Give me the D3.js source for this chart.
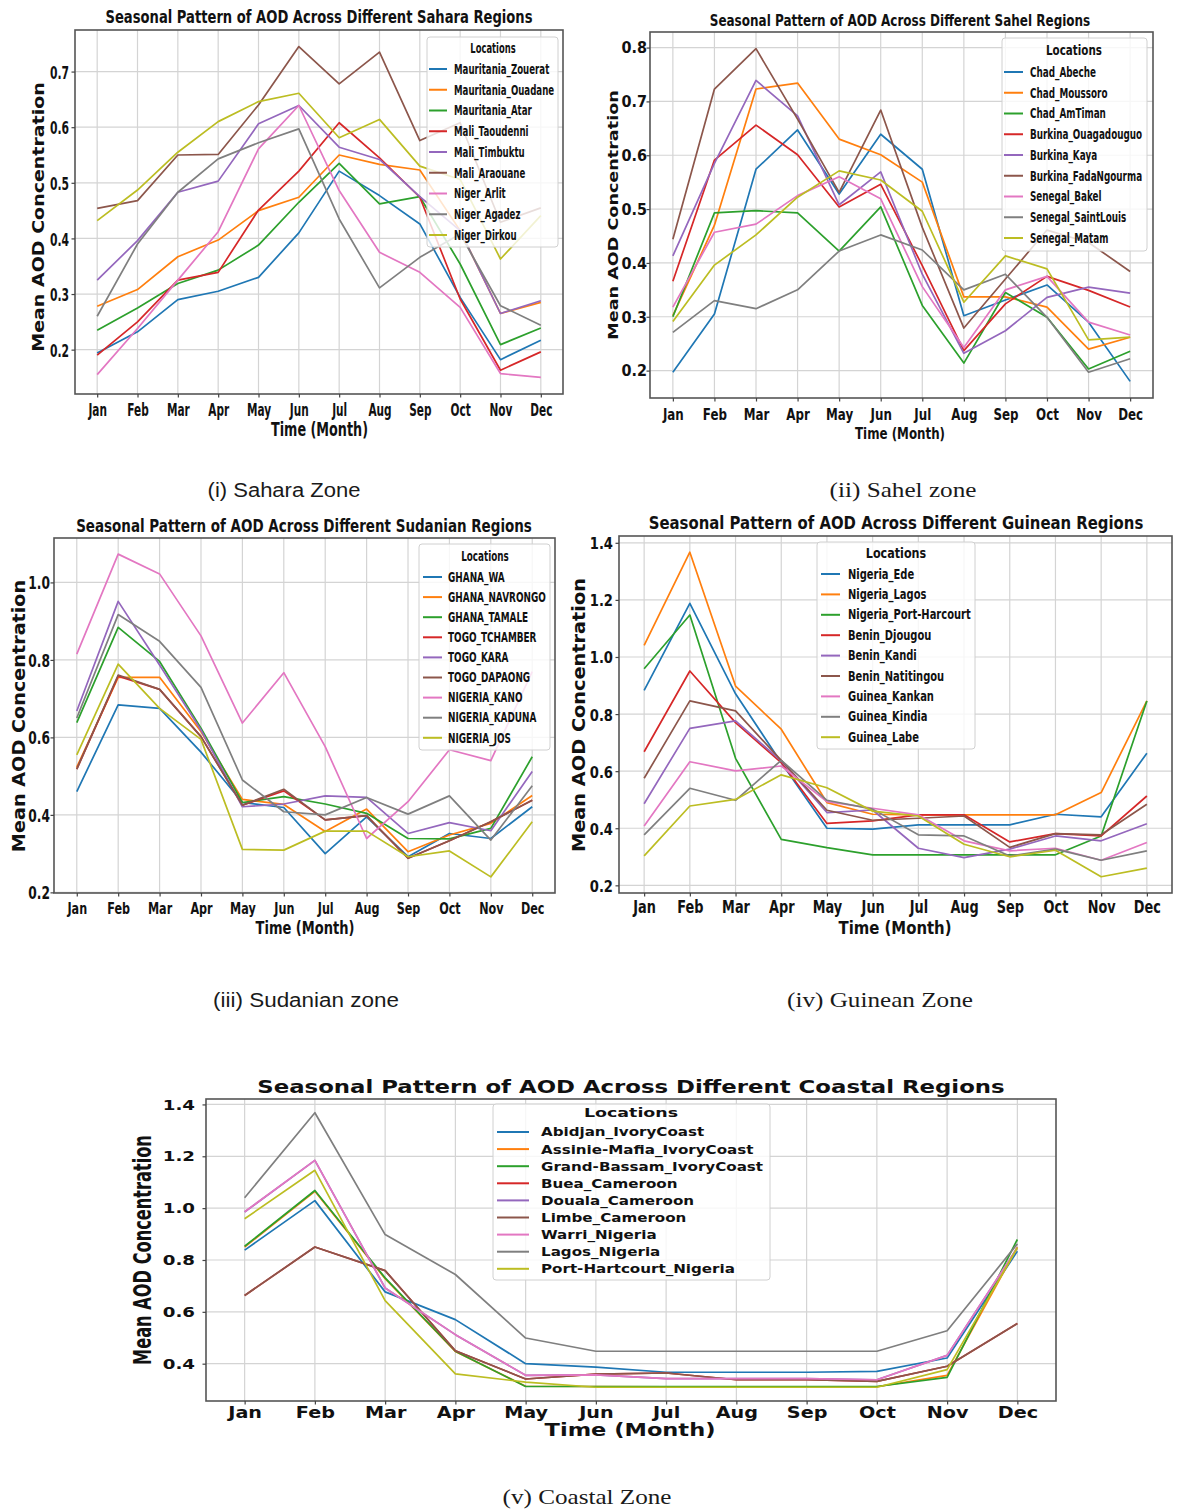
<!DOCTYPE html>
<html>
<head>
<meta charset="utf-8">
<script src="https://cdn.jsdelivr.net/npm/d3@7"></script>
<style>
  body { margin: 0; background: #fff; }
  svg { display: block; }
</style>
</head>
<body>
<svg id="fig" width="1177" height="1511"></svg>
<script>
// ---- data: monthly mean AOD per location, one array per zone ----
const months = ["Jan","Feb","Mar","Apr","May","Jun","Jul","Aug","Sep","Oct","Nov","Dec"];

const saharaSites = ["Mauritania_Zouerat","Mauritania_Ouadane","Mauritania_Atar","Mali_Taoudenni",
  "Mali_Timbuktu","Mali_Araouane","Niger_Arlit","Niger_Agadez","Niger_Dirkou"];
const saharaAOD = [
  [0.194,0.232,0.290,0.305,0.330,0.410,0.521,0.477,0.426,0.294,0.182,0.217],
  [0.278,0.308,0.367,0.397,0.450,0.474,0.550,0.533,0.523,0.414,0.265,0.285],
  [0.235,0.275,0.319,0.343,0.388,0.465,0.535,0.462,0.475,0.354,0.209,0.239],
  [0.190,0.250,0.325,0.339,0.451,0.521,0.608,0.545,0.474,0.291,0.163,0.196],
  [0.325,0.396,0.483,0.503,0.606,0.639,0.564,0.542,0.475,0.414,0.265,0.288],
  [0.454,0.468,0.550,0.551,0.640,0.745,0.678,0.735,0.576,0.608,0.429,0.455],
  [0.155,0.238,0.325,0.412,0.561,0.639,0.486,0.375,0.339,0.276,0.157,0.150],
  [0.260,0.390,0.483,0.543,0.572,0.597,0.435,0.311,0.366,0.408,0.279,0.244],
  [0.432,0.487,0.555,0.610,0.646,0.661,0.581,0.614,0.530,0.506,0.363,0.441]
];
const saharaTicks = [0.2,0.3,0.4,0.5,0.6,0.7];

const sahelSites = ["Chad_Abeche","Chad_Moussoro","Chad_AmTiman","Burkina_Ouagadouguo","Burkina_Kaya",
  "Burkina_FadaNgourma","Senegal_Bakel","Senegal_SaintLouis","Senegal_Matam"];
const sahelAOD = [
  [0.197,0.305,0.574,0.647,0.528,0.639,0.574,0.302,0.331,0.359,0.290,0.180],
  [0.302,0.470,0.723,0.734,0.630,0.601,0.550,0.337,0.337,0.318,0.240,0.262],
  [0.300,0.493,0.497,0.493,0.422,0.504,0.321,0.214,0.345,0.299,0.203,0.236],
  [0.366,0.591,0.656,0.601,0.504,0.546,0.395,0.237,0.324,0.375,0.349,0.318],
  [0.413,0.585,0.739,0.673,0.508,0.569,0.379,0.232,0.274,0.336,0.355,0.344],
  [0.444,0.723,0.798,0.667,0.531,0.684,0.466,0.279,0.370,0.461,0.438,0.384],
  [0.318,0.457,0.472,0.525,0.560,0.519,0.356,0.243,0.350,0.375,0.290,0.266],
  [0.271,0.330,0.315,0.350,0.422,0.452,0.424,0.350,0.379,0.299,0.197,0.222],
  [0.291,0.396,0.452,0.522,0.571,0.554,0.496,0.327,0.413,0.389,0.257,0.262]
];
const sahelTicks = [0.2,0.3,0.4,0.5,0.6,0.7,0.8];

const sudanSites = ["GHANA_WA","GHANA_NAVRONGO","GHANA_TAMALE","TOGO_TCHAMBER","TOGO_KARA",
  "TOGO_DAPAONG","NIGERIA_KANO","NIGERIA_KADUNA","NIGERIA_JOS"];
const sudanAOD = [
  [0.460,0.684,0.675,0.562,0.432,0.419,0.300,0.395,0.292,0.352,0.339,0.421],
  [0.523,0.755,0.755,0.615,0.440,0.427,0.357,0.415,0.305,0.348,0.378,0.450],
  [0.638,0.884,0.796,0.624,0.432,0.447,0.428,0.404,0.339,0.338,0.365,0.550],
  [0.518,0.758,0.724,0.602,0.425,0.462,0.387,0.398,0.288,0.333,0.382,0.438],
  [0.668,0.951,0.787,0.619,0.421,0.428,0.449,0.445,0.352,0.380,0.359,0.512],
  [0.518,0.761,0.724,0.602,0.425,0.466,0.387,0.398,0.288,0.333,0.382,0.438],
  [0.815,1.073,1.022,0.862,0.637,0.767,0.576,0.339,0.434,0.568,0.540,0.770],
  [0.650,0.917,0.848,0.729,0.490,0.408,0.400,0.445,0.402,0.449,0.335,0.475],
  [0.555,0.789,0.675,0.595,0.311,0.309,0.358,0.358,0.292,0.307,0.240,0.382]
];
const sudanTicks = [0.2,0.4,0.6,0.8,1.0];

const guineaSites = ["Nigeria_Ede","Nigeria_Lagos","Nigeria_Port-Harcourt","Benin_Djougou","Benin_Kandi",
  "Benin_Natitingou","Guinea_Kankan","Guinea_Kindia","Guinea_Labe"];
const guineaAOD = [
  [0.883,1.188,0.871,0.630,0.400,0.397,0.412,0.412,0.412,0.449,0.440,0.663],
  [1.041,1.367,0.898,0.747,0.490,0.449,0.447,0.447,0.447,0.447,0.525,0.846],
  [0.959,1.147,0.645,0.361,0.332,0.307,0.307,0.307,0.307,0.307,0.373,0.846],
  [0.668,0.951,0.770,0.630,0.417,0.426,0.447,0.447,0.352,0.381,0.373,0.513],
  [0.486,0.750,0.776,0.636,0.455,0.464,0.330,0.297,0.327,0.373,0.356,0.416],
  [0.575,0.846,0.811,0.638,0.463,0.428,0.435,0.443,0.333,0.381,0.377,0.484],
  [0.408,0.633,0.601,0.618,0.493,0.470,0.447,0.356,0.321,0.330,0.288,0.350],
  [0.377,0.540,0.498,0.638,0.498,0.467,0.377,0.373,0.303,0.327,0.288,0.321],
  [0.303,0.478,0.501,0.587,0.542,0.460,0.443,0.344,0.300,0.323,0.230,0.260]
];
const guineaTicks = [0.2,0.4,0.6,0.8,1.0,1.2,1.4];

const coastSites = ["Abidjan_IvoryCoast","Assinie-Mafia_IvoryCoast","Grand-Bassam_IvoryCoast","Buea_Cameroon",
  "Douala_Cameroon","Limbe_Cameroon","Warri_Nigeria","Lagos_Nigeria","Port-Hartcourt_Nigeria"];
const coastAOD = [
  [0.838,1.029,0.677,0.570,0.400,0.387,0.367,0.367,0.367,0.370,0.422,0.834],
  [0.850,1.065,0.728,0.447,0.313,0.312,0.311,0.311,0.311,0.311,0.355,0.850],
  [0.853,1.068,0.731,0.448,0.312,0.312,0.312,0.312,0.312,0.312,0.347,0.879],
  [0.663,0.850,0.759,0.450,0.341,0.360,0.364,0.338,0.338,0.332,0.390,0.555],
  [0.985,1.184,0.692,0.512,0.355,0.357,0.342,0.342,0.342,0.338,0.432,0.847],
  [0.663,0.850,0.759,0.450,0.341,0.360,0.364,0.338,0.338,0.332,0.390,0.555],
  [0.986,1.184,0.692,0.512,0.355,0.357,0.342,0.342,0.342,0.338,0.432,0.847],
  [1.040,1.368,0.898,0.744,0.499,0.448,0.448,0.448,0.448,0.448,0.527,0.862],
  [0.959,1.146,0.643,0.361,0.329,0.309,0.309,0.309,0.309,0.309,0.377,0.847]
];
const coastTicks = [0.4,0.6,0.8,1.0,1.2,1.4];

// ---- layout of the five panels ----
const panels = [
  { title: "Seasonal Pattern of AOD Across Different Sahara Regions",
    sites: saharaSites, aod: saharaAOD, ticks: saharaTicks,
    plot: {l: 75, r: 563, t: 30, b: 394},
    ttl: {x: 319, y: 17, size: 17.4, width: 427},
    ylab: {x: 39, y: 217, size: 19, k: 0.84},
    xlab: {x: 319.5, y: 430, size: 19, width: 97},
    xt: {y: 410, size: 18.5, k: 0.57},
    yt: {gap: 6, size: 18, k: 0.6},
    leg: {l: 427, r: 558, t: 37, b: 247, tx0: 493, ty0: 48, tsize: 14, tk: 0.6,
          y0: 69, dy: 20.75, lx0: 429, lx1: 447, tx: 454, size: 13.7, k: 0.63} },
  { title: "Seasonal Pattern of AOD Across Different Sahel Regions",
    sites: sahelSites, aod: sahelAOD, ticks: sahelTicks,
    plot: {l: 650, r: 1153, t: 32, b: 398},
    ttl: {x: 900, y: 20, size: 15.1, width: 381},
    ylab: {x: 613, y: 215, size: 17.6, k: 0.83},
    xlab: {x: 900, y: 433, size: 16, width: 90},
    xt: {y: 414, size: 16.5, k: 0.72},
    yt: {gap: 3, size: 16, k: 0.9},
    leg: {l: 1002, r: 1147, t: 38, b: 251, tx0: 1074, ty0: 50, tsize: 14, tk: 0.74,
          y0: 72, dy: 20.75, lx0: 1004, lx1: 1023, tx: 1030, size: 13.7, k: 0.644} },
  { title: "Seasonal Pattern of AOD Across Different Sudanian Regions",
    sites: sudanSites, aod: sudanAOD, ticks: sudanTicks,
    plot: {l: 54, r: 555, t: 538, b: 893},
    ttl: {x: 304, y: 526, size: 17.4, width: 456},
    ylab: {x: 19, y: 716, size: 19.2, k: 0.88},
    xlab: {x: 305, y: 928, size: 18.3, width: 99},
    xt: {y: 908, size: 16.5, k: 0.68},
    yt: {gap: 4, size: 17, k: 0.72},
    leg: {l: 419, r: 550, t: 544, b: 750, tx0: 485, ty0: 556, tsize: 14, tk: 0.63,
          y0: 577, dy: 20.1, lx0: 423, lx1: 442, tx: 448, size: 13.7, k: 0.65} },
  { title: "Seasonal Pattern of AOD Across Different Guinean Regions",
    sites: guineaSites, aod: guineaAOD, ticks: guineaTicks,
    plot: {l: 619, r: 1172, t: 536, b: 893},
    ttl: {x: 896, y: 523, size: 17, width: 495},
    ylab: {x: 579, y: 715, size: 19.3, k: 0.9},
    xlab: {x: 895, y: 928, size: 18.3, width: 113},
    xt: {y: 907, size: 17.4, k: 0.74},
    yt: {gap: 6, size: 16, k: 0.82},
    leg: {l: 817, r: 975, t: 542, b: 749, tx0: 896, ty0: 553, tsize: 14.5, tk: 0.77,
          y0: 574, dy: 20.4, lx0: 821, lx1: 840, tx: 848, size: 14, k: 0.71} },
  { title: "Seasonal Pattern of AOD Across Different Coastal Regions",
    sites: coastSites, aod: coastAOD, ticks: coastTicks,
    plot: {l: 206, r: 1056, t: 1099, b: 1401},
    ttl: {x: 631, y: 1087, size: 17, width: 748},
    ylab: {x: 143, y: 1250, size: 16.2, k: 1.5},
    xlab: {x: 630, y: 1430, size: 17.4, width: 171},
    xt: {y: 1413, size: 15, k: 1.28},
    yt: {gap: 11, size: 13.5, k: 1.35},
    leg: {l: 493, r: 770, t: 1104, b: 1280, tx0: 631, ty0: 1113, tsize: 13, tk: 1.34,
          y0: 1132, dy: 17.1, lx0: 497, lx1: 529, tx: 541, size: 12.3, k: 1.23} }
];

const captions = [
  {text: "(i) Sahara Zone",     x: 284, y: 490,  family: "Liberation Sans",  size: 21, width: 153},
  {text: "(ii) Sahel zone",     x: 903, y: 490,  family: "Liberation Serif", size: 22, width: 147},
  {text: "(iii) Sudanian zone", x: 306, y: 1000, family: "Liberation Sans",  size: 21, width: 186},
  {text: "(iv) Guinean Zone",   x: 880, y: 1000, family: "Liberation Serif", size: 22, width: 186},
  {text: "(v) Coastal Zone",    x: 587, y: 1497, family: "Liberation Serif", size: 22, width: 169}
];

const colors = d3.schemeCategory10;
const svg = d3.select("#fig");
svg.append("rect").attr("width", 1177).attr("height", 1511).attr("fill", "#fff");

// Text with an optional horizontal squeeze (k) or a fitted width.
function put(g, str, x, y, o) {
  const t = g.append("text").text(str)
    .attr("font-family", o.family || "DejaVu Sans")
    .attr("font-weight", o.weight || "bold")
    .attr("font-size", o.size)
    .attr("fill", o.fill || "#111")
    .attr("text-anchor", o.anchor || "middle")
    .attr("dominant-baseline", "central");
  let k = o.k || 1;
  if (o.width) k = o.width / t.node().getComputedTextLength();
  t.attr("transform", `translate(${x},${y}) scale(${k},1)` + (o.rotate ? ` rotate(${o.rotate})` : ""));
  return t;
}

function drawPanel(p) {
  const g = svg.append("g");
  const {l, r, t, b} = p.plot;
  const all = p.aod.flat();
  const lo = d3.min(all), hi = d3.max(all), pad = (hi - lo) * 0.05;

  const x = d3.scalePoint().domain(months).range([l, r]).padding(0.55);
  const y = d3.scaleLinear().domain([lo - pad, hi + pad]).range([b, t]);

  // grid
  const grid = g.append("g").attr("stroke", "#d4d4d4").attr("stroke-width", 1.2);
  grid.selectAll(".gx").data(months).join("line")
    .attr("x1", d => x(d)).attr("x2", d => x(d)).attr("y1", t).attr("y2", b);
  grid.selectAll(".gy").data(p.ticks).join("line")
    .attr("x1", l).attr("x2", r).attr("y1", d => y(d)).attr("y2", d => y(d));

  // series
  const line = d3.line().x((d, i) => x(months[i])).y(d => y(d));
  g.append("g").selectAll("path").data(p.aod).join("path")
    .attr("d", line).attr("fill", "none")
    .attr("stroke", (d, i) => colors[i]).attr("stroke-width", 1.7)
    .attr("stroke-linejoin", "round");

  // frame
  g.append("rect").attr("x", l).attr("y", t).attr("width", r - l).attr("height", b - t)
    .attr("fill", "none").attr("stroke", "#555").attr("stroke-width", 1.6);

  // y axis
  const ya = g.append("g").attr("transform", `translate(${l},0)`)
    .call(d3.axisLeft(y).tickValues(p.ticks).tickFormat(d3.format(".1f")).tickSize(3.5));
  ya.select(".domain").remove();
  ya.selectAll(".tick line").attr("stroke", "#444").attr("stroke-width", 1.2);
  ya.selectAll(".tick text")
    .attr("x", null).attr("dy", null)
    .attr("font-family", "DejaVu Sans").attr("font-weight", "bold")
    .attr("font-size", p.yt.size).attr("fill", "#111")
    .attr("text-anchor", "end").attr("dominant-baseline", "central")
    .attr("transform", `translate(${-p.yt.gap},0) scale(${p.yt.k},1)`);

  // x axis
  const xa = g.append("g").attr("transform", `translate(0,${b})`)
    .call(d3.axisBottom(x).tickSize(3.5));
  xa.select(".domain").remove();
  xa.selectAll(".tick line").attr("stroke", "#444").attr("stroke-width", 1.2);
  xa.selectAll(".tick text")
    .attr("y", null).attr("dy", null)
    .attr("font-family", "DejaVu Sans").attr("font-weight", "bold")
    .attr("font-size", p.xt.size).attr("fill", "#111")
    .attr("text-anchor", "middle").attr("dominant-baseline", "central")
    .attr("transform", `translate(0,${p.xt.y - b}) scale(${p.xt.k},1)`);

  // titles
  put(g, p.title, p.ttl.x, p.ttl.y, {size: p.ttl.size, width: p.ttl.width});
  put(g, "Time (Month)", p.xlab.x, p.xlab.y, {size: p.xlab.size, width: p.xlab.width});
  put(g, "Mean AOD Concentration", p.ylab.x, p.ylab.y, {size: p.ylab.size, k: p.ylab.k, rotate: -90});

  // legend
  const L = p.leg;
  const lg = g.append("g");
  lg.append("rect").attr("x", L.l).attr("y", L.t).attr("width", L.r - L.l).attr("height", L.b - L.t)
    .attr("rx", 3).attr("fill", "#fff").attr("fill-opacity", 0.8)
    .attr("stroke", "#d0d0d0").attr("stroke-width", 1);
  put(lg, "Locations", L.tx0, L.ty0, {size: L.tsize, k: L.tk});
  p.sites.forEach((s, i) => {
    const yy = L.y0 + i * L.dy;
    lg.append("line").attr("x1", L.lx0).attr("x2", L.lx1).attr("y1", yy).attr("y2", yy)
      .attr("stroke", colors[i]).attr("stroke-width", 2);
    put(lg, s, L.tx, yy, {size: L.size, k: L.k, anchor: "start"});
  });
}

panels.forEach(drawPanel);

captions.forEach(c => put(svg, c.text, c.x, c.y,
  {family: c.family, weight: "normal", size: c.size, width: c.width, fill: "#1a1a1a"}));
</script>
</body>
</html>
